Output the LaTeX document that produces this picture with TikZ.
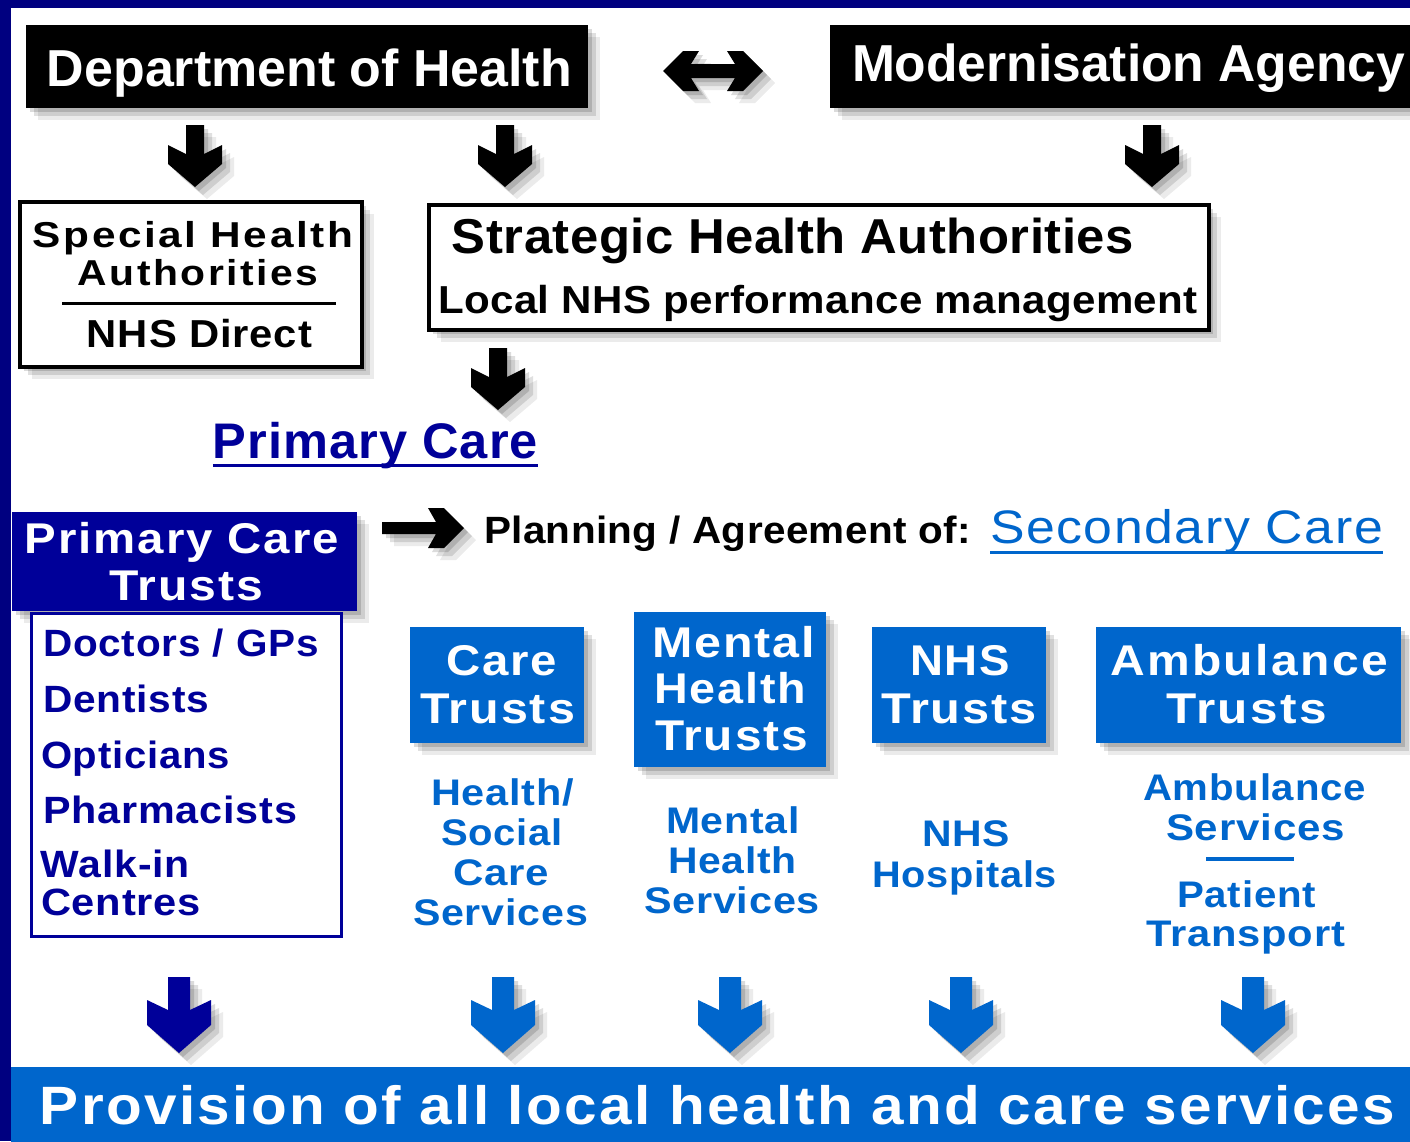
\documentclass[tikz,border=0pt]{standalone}
\usepackage{fontspec}
\setmainfont{Liberation Sans}
\usepackage{graphicx}
\usetikzlibrary{shadows,calc}

\definecolor{framecol}{RGB}{0,0,128}
\definecolor{navy}{RGB}{0,0,153}
\definecolor{nhsblue}{RGB}{0,102,204}

\newcommand\fw[3][6]{\resizebox{#2pt}{\height}{\addfontfeatures{LetterSpace=#1}#3}}
\newcommand\fR[1]{\fontsize{#1}{#1}\selectfont}
\newcommand\fB[1]{\fontsize{#1}{#1}\selectfont\bfseries}

\begin{document}
\begin{tikzpicture}[x=1pt,y=-1pt,
  lab/.style={inner sep=0pt,outer sep=0pt,anchor=base},
  item/.style={lab,anchor=base west,text=navy,font=\fB{38}},
  sub/.style={lab,text=nhsblue,font=\fB{37}},
  wtxt/.style={lab,text=white,font=\fB{43}},
  shad/.style={drop shadow={shadow xshift=4pt,shadow yshift=-4pt,fill=black,opacity=.14},
               drop shadow={shadow xshift=8pt,shadow yshift=-8pt,fill=black,opacity=.12},
               drop shadow={shadow xshift=12pt,shadow yshift=-12pt,fill=black,opacity=.08}},
  box/.style={inner sep=0pt,outer sep=0pt,anchor=north west},
  blackbox/.style={box,fill=black,shad},
  whitebox/.style={box,fill=white,draw=black,line width=3.5pt,shad},
  bluebox/.style={box,fill=nhsblue,shad},
  blackarr/.pic={\fill[shad] (-9,0) -- (9,0) -- (9,29) -- (27,20) -- (27,39) -- (0,62) -- (-27,39) -- (-27,20) -- (-9,29) -- cycle;},
  bluearr/.pic={\fill[shad] (-11,0) -- (11,0) -- (11,33) -- (32,23) -- (32,48) -- (0,76) -- (-32,48) -- (-32,23) -- (-11,33) -- cycle;}
]
\useasboundingbox (0,0) rectangle (1410,1141);
\fill[white] (0,0) rectangle (1410,1141);

% frame
\fill[framecol] (0,0) rectangle (1410,8);
\fill[framecol] (0,0) rectangle (11,1141);

% top boxes
\node[blackbox,minimum width=562pt,minimum height=83pt] (doh) at (26,25) {};
\node[blackbox,minimum width=600pt,minimum height=83pt] (ma) at (830,25) {};
\node[lab,text=white,font=\fB{52}] (doht) at (309.5,86) {\fw[0]{525}{Department of Health}};
\node[lab,text=white,font=\fB{52}] (mat) at (1128.5,81) {\fw[0]{553}{Modernisation Agency}};

% double arrow
\fill[black,shad] (691,64) -- (735,64) -- (727,51) -- (743,51) -- (763,71) -- (743,91) -- (727,91) -- (735,78) -- (691,78) -- (699,91) -- (683,91) -- (663,71) -- (683,51) -- (699,51) -- cycle;

% black down arrows
\pic[color=black] at (195,125) {blackarr};
\pic[color=black] at (505,125) {blackarr};
\pic[color=black] at (1152,125) {blackarr};
\pic[color=black] at (498,348) {blackarr};

% special health authorities
\node[whitebox,minimum width=342pt,minimum height=165pt] (sha) at (20,202) {};
\node[lab,font=\fB{36}] (shat1) at (193,247) {\fw[6]{320}{Special Health}};
\node[lab,font=\fB{36}] (shat2) at (198,285) {\fw[6]{240}{Authorities}};
\draw[line width=3pt] (62,303) -- (336,303);
\node[lab,font=\fB{39}] (shat3) at (199.5,347) {\fw[2]{225}{NHS Direct}};

% strategic health authorities
\node[whitebox,minimum width=780pt,minimum height=125pt] (strat) at (429,205) {};
\node[lab,font=\fB{49}] (stratt1) at (793,253) {\fw[1]{682}{Strategic Health Authorities}};
\node[lab,font=\fB{39}] (stratt2) at (818,313) {\fw[1]{760}{Local NHS performance management}};

% primary care link
\node[lab,text=navy,font=\fB{50}] (pcl) at (375.5,458) {\fw[2]{325}{Primary Care}};
\draw[navy,line width=3pt] ([yshift=-7pt]pcl.base west) -- ([yshift=-7pt]pcl.base east);

% primary care trusts
\node[box,fill=navy,shad,minimum width=345pt,minimum height=99pt] (pct) at (12,512) {};
\node[wtxt] (pctt1) at (182,553) {\fw[4]{314}{Primary Care}};
\node[wtxt] (pctt2) at (186,600) {\fw[4]{154}{Trusts}};
\node[box,fill=white,draw=navy,line width=3pt,minimum width=310pt,minimum height=323pt] (list) at (31,613) {};
\node[item] (i1) at (43,656) {\fw[2]{276}{Doctors / GPs}};
\node[item] (i2) at (43,712) {\fw[2]{166}{Dentists}};
\node[item] (i3) at (41,768) {\fw[2]{189}{Opticians}};
\node[item] (i4) at (43,823) {\fw[2]{254}{Pharmacists}};
\node[item] (i5) at (41,877) {\fw[2]{149}{Walk-in}};
\node[item] (i6) at (41,915) {\fw[2]{160}{Centres}};

% planning arrow and text
\fill[black,shad] (382,522) -- (436,522) -- (428,508) -- (444,508) -- (464,528) -- (444,548) -- (428,548) -- (436,534) -- (382,534) -- cycle;
\node[lab,font=\fB{38}] (plan) at (727.5,543) {\fw[1]{487}{Planning / Agreement of:}};
\node[lab,text=nhsblue,font=\fR{47}] (sec) at (1186.5,543) {\fw[3]{393}{Secondary Care}};
\draw[nhsblue,line width=3pt] ([yshift=-9pt]sec.base west) -- ([yshift=-9pt]sec.base east);

% trust boxes
\node[bluebox,minimum width=174pt,minimum height=116pt] (care) at (410,627) {};
\node[wtxt] (caret1) at (501.5,675) {\fw[4]{111}{Care}};
\node[wtxt] (caret2) at (497.5,723) {\fw[4]{155}{Trusts}};

\node[bluebox,minimum width=192pt,minimum height=155pt] (mh) at (634,612) {};
\node[wtxt] (mht1) at (733.5,657) {\fw[4]{163}{Mental}};
\node[wtxt] (mht2) at (730,703) {\fw[4]{152}{Health}};
\node[wtxt] (mht3) at (731.5,750) {\fw[4]{153}{Trusts}};

\node[bluebox,minimum width=174pt,minimum height=116pt] (nhs) at (872,627) {};
\node[wtxt] (nhst1) at (960,675) {\fw[4]{100}{NHS}};
\node[wtxt] (nhst2) at (959,723) {\fw[4]{156}{Trusts}};

\node[bluebox,minimum width=305pt,minimum height=116pt] (amb) at (1096,627) {};
\node[wtxt] (ambt1) at (1249,675) {\fw[5]{278}{Ambulance}};
\node[wtxt] (ambt2) at (1246.5,723) {\fw[5]{161}{Trusts}};

% services text
\node[sub] (s1) at (502.5,805) {\fw[2]{143}{Health/}};
\node[sub] (s2) at (502,845) {\fw[2]{122}{Social}};
\node[sub] (s3) at (501,885) {\fw[2]{96}{Care}};
\node[sub] (s4) at (500.5,925) {\fw[2]{175}{Services}};

\node[sub] (m1) at (733,833) {\fw[2]{134}{Mental}};
\node[sub] (m2) at (732.5,873) {\fw[2]{129}{Health}};
\node[sub] (m3) at (732,913) {\fw[2]{176}{Services}};

\node[sub] (n1) at (966,846) {\fw[2]{88}{NHS}};
\node[sub] (n2) at (964.5,887) {\fw[2]{185}{Hospitals}};

\node[sub] (a1) at (1254.5,800) {\fw[2]{223}{Ambulance}};
\node[sub] (a2) at (1255.5,840) {\fw[2]{179}{Services}};
\draw[nhsblue,line width=4pt] (1206,859) -- (1294,859);
\node[sub] (a3) at (1246.5,907) {\fw[2]{139}{Patient}};
\node[sub] (a4) at (1245.5,946) {\fw[2]{199}{Transport}};

% bottom arrows
\pic[color=navy] at (179,977) {bluearr};
\pic[color=nhsblue] at (503,977) {bluearr};
\pic[color=nhsblue] at (730,977) {bluearr};
\pic[color=nhsblue] at (961,977) {bluearr};
\pic[color=nhsblue] at (1253,977) {bluearr};

% bottom band
\node[box,fill=nhsblue,minimum width=1410pt,minimum height=90pt] (band) at (11,1067) {};
\node[lab,text=white,font=\fB{54}] (bandt) at (717.5,1124) {\fw[4]{1355}{Provision of all local health and care services}};
\end{tikzpicture}
\end{document}
